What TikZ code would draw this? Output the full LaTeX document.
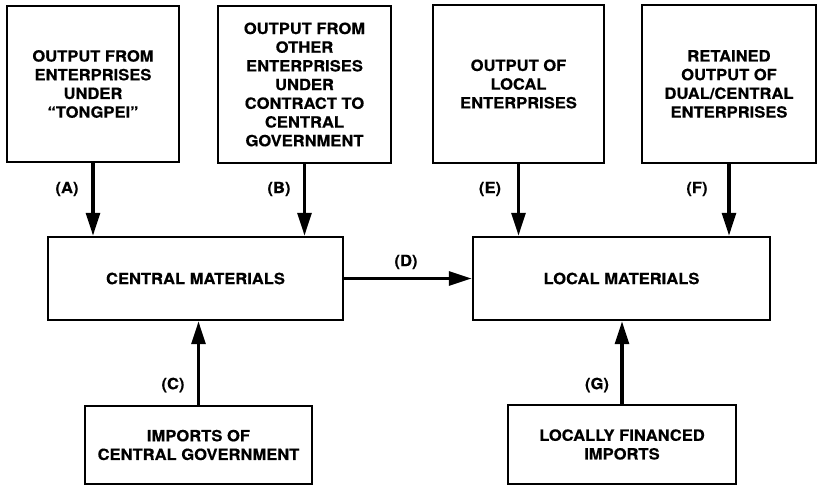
\documentclass[tikz,border=0pt]{standalone}
\usepackage{fontspec}
\newfontfamily\chartfont{TeX Gyre Heros}[Ligatures=TeX,FakeStretch=1.07,BoldFeatures={FakeBold=0.4}]
\usetikzlibrary{arrows.meta}
\begin{document}
\begin{tikzpicture}[x=0.025cm,y=-0.025cm,
  font=\chartfont\fontsize{11}{13.3}\selectfont\bfseries,
  box/.style={draw,line width=1.4pt,align=center,inner sep=2pt},
  flow/.style={line width=2.8pt,-{Triangle[length=0.58cm,width=0.34cm]}}]
\useasboundingbox (0,0) rectangle (817,486);
% sources on top
\node[box,minimum width=4.3cm,minimum height=3.9cm] (tongpei) at (93,84) {OUTPUT FROM\\ENTERPRISES\\UNDER\\“TONGPEI”};
\node[box,minimum width=4.325cm,minimum height=3.925cm] (contract) at (304.5,84.5) {OUTPUT FROM\\OTHER\\ENTERPRISES\\UNDER\\CONTRACT TO\\CENTRAL\\GOVERNMENT};
\node[box,minimum width=4.275cm,minimum height=3.95cm] (localent) at (518.5,84) {OUTPUT OF\\LOCAL\\ENTERPRISES};
\node[box,minimum width=4.35cm,minimum height=3.95cm] (retained) at (729,84) {RETAINED\\OUTPUT OF\\DUAL/CENTRAL\\ENTERPRISES};
% the two pools
\node[box,minimum width=7.375cm,minimum height=2.075cm] (central) at (195.5,278.5) {CENTRAL MATERIALS};
\node[box,minimum width=7.425cm,minimum height=2.075cm] (local) at (621.5,278.5) {LOCAL MATERIALS};
% imports
\node[box,minimum width=5.675cm,minimum height=1.95cm] (impcentral) at (198.5,445) {IMPORTS OF\\CENTRAL GOVERNMENT};
\node[box,minimum width=5.7cm,minimum height=1.975cm] (implocal) at (622,444.5) {LOCALLY FINANCED\\IMPORTS};
% flows
\draw[flow] (tongpei.south) -- (tongpei.south |- central.north);
\draw[flow] (contract.south) -- (contract.south |- central.north);
\draw[flow] (localent.south) -- (localent.south |- local.north);
\draw[flow] (retained.south) -- (retained.south |- local.north);
\draw[flow] (impcentral.north) -- (impcentral.north |- central.south);
\draw[flow] (implocal.north) -- (implocal.north |- local.south);
\draw[flow] (central.east) -- (local.west);
\node (la) at (67,189) {(A)};
\node (lb) at (279,189) {(B)};
\node (le) at (490,189) {(E)};
\node (lf) at (697,189) {(F)};
\node (lc) at (173,385) {(C)};
\node (lg) at (597,385) {(G)};
\node (ld) at (406,262) {(D)};
\end{tikzpicture}
\end{document}
